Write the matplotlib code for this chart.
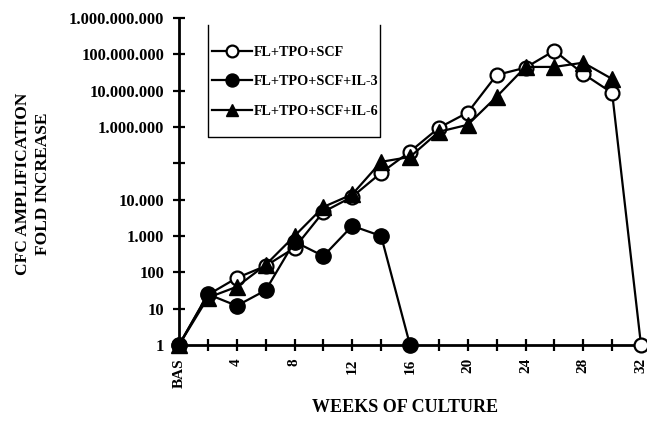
import matplotlib
matplotlib.use("Agg")
import matplotlib.pyplot as plt
from matplotlib.lines import Line2D
from matplotlib.ticker import FixedLocator, NullFormatter

# weeks of culture (0 = baseline)
weeks = [0, 2, 4, 6, 8, 10, 12, 14, 16, 18, 20, 22, 24, 26, 28, 30, 32]
weeks_il3 = [0, 2, 4, 6, 8, 10, 12, 14, 16]
weeks_il6 = [0, 2, 4, 6, 8, 10, 12, 14, 16, 18, 20, 22, 24, 26, 28, 30]

# fold increase of CFC
fl_tpo_scf = [1, 24, 70, 150, 470, 4600, 12000, 55000, 210000, 950000,
              2500000, 27000000, 43000000, 126000000, 29000000, 8700000, 1]
fl_tpo_scf_il3 = [1, 25, 12, 32, 700, 280, 1900, 1000, 1]
fl_tpo_scf_il6 = [1, 20, 40, 160, 1000, 6300, 14000, 110000, 150000, 740000,
                  1150000, 6800000, 45000000, 45000000, 59000000, 21000000]

series_labels = ["FL+TPO+SCF", "FL+TPO+SCF+IL-3", "FL+TPO+SCF+IL-6"]

y_ticks = [1, 10, 100, 1e3, 1e4, 1e5, 1e6, 1e7, 1e8, 1e9]
y_tick_labels = ["1", "10", "100", "1.000", "10.000", "", "1.000.000",
                 "10.000.000", "100.000.000", "1.000.000.000"]
x_major = [0, 4, 8, 12, 16, 20, 24, 28, 32]
x_major_labels = ["BAS", "4", "8", "12", "16", "20", "24", "28", "32"]
x_minor = [2, 6, 10, 14, 18, 22, 26, 30]

plt.rcParams["font.family"] = "Liberation Serif"
plt.rcParams["font.weight"] = "bold"

fig = plt.figure(figsize=(6.47, 4.22), dpi=100)
ax = fig.add_axes([179 / 647, 1 - 345 / 422, 462 / 647, 327 / 422])

lw = 1.6
h1, = ax.plot(weeks, fl_tpo_scf, color="black", lw=lw, marker="o", ms=10,
              mfc="white", mec="black", mew=1.6, clip_on=False, zorder=3)
h3, = ax.plot(weeks_il6, fl_tpo_scf_il6, color="black", lw=lw, marker="^",
              ms=11, mfc="black", mec="black", clip_on=False, zorder=4)
h2, = ax.plot(weeks_il3, fl_tpo_scf_il3, color="black", lw=lw, marker="o",
              ms=11, mfc="black", mec="black", clip_on=False, zorder=5)

ax.set_yscale("log")
ax.set_ylim(1, 1e9)
ax.set_xlim(0, 32)
ax.yaxis.set_major_locator(FixedLocator(y_ticks))
ax.set_yticklabels(y_tick_labels)
ax.yaxis.set_minor_locator(FixedLocator([]))
ax.yaxis.set_minor_formatter(NullFormatter())
ax.set_xticks(x_major)
ax.set_xticklabels(x_major_labels, rotation=90)
ax.set_xticks(x_minor, minor=True)

for s in ["top", "right"]:
    ax.spines[s].set_visible(False)
for s in ["left", "bottom"]:
    ax.spines[s].set_linewidth(2)

ax.tick_params(axis="both", which="both", direction="inout", length=9,
               width=1.6, labelsize=11)
ax.tick_params(axis="y", pad=6, labelsize=12)
ax.tick_params(axis="x", pad=5)

fig.text(0.051, 0.564, "CFC AMPLIFICATION\nFOLD INCREASE", rotation=90,
         ha="center", va="center", multialignment="center", fontsize=12.5,
         linespacing=1.35, fontweight="bold")
fig.text(0.626, 1 - 408 / 422, "WEEKS OF CULTURE", ha="center",
         va="center", fontsize=13, fontweight="bold")

leg = fig.legend([h1, h2, h3], series_labels, loc="upper left",
                 bbox_to_anchor=(212 / 647, 1 - 46 / 422),
                 bbox_transform=fig.transFigure, frameon=False,
                 borderpad=0, borderaxespad=0, handlelength=2.8,
                 handletextpad=0.15, labelspacing=1.15, markerscale=0.85,
                 prop={"family": "Liberation Serif", "weight": "bold",
                       "size": 10.2})

# legend box, open at the top
x0, x1 = 208 / 647, 380 / 647
y0, y1 = 1 - 137 / 422, 1 - 25 / 422
fig.add_artist(Line2D([x0, x0, x1, x1], [y1, y0, y0, y1],
                      transform=fig.transFigure, color="black", lw=1))

fig.savefig("out.png", dpi=100)
